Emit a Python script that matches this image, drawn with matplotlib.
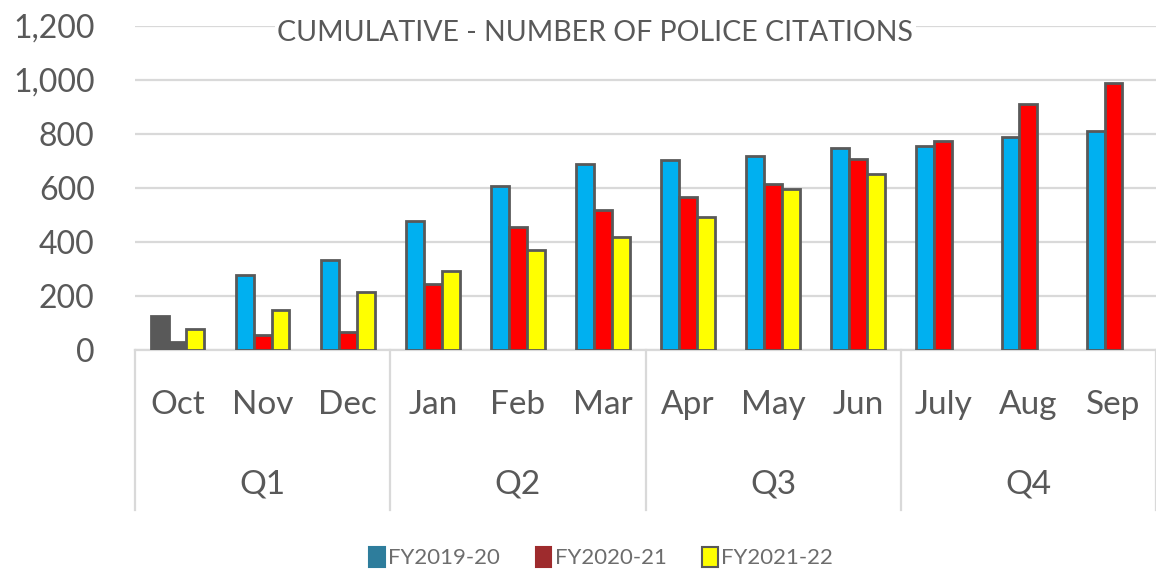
import matplotlib
matplotlib.use('Agg')
import matplotlib.pyplot as plt
from matplotlib.patches import Patch
import numpy as np

plt.rcParams['font.family'] = ['Lato', 'DejaVu Sans']

############################################
# Data
months = ['Oct', 'Nov', 'Dec', 'Jan', 'Feb', 'Mar',
          'Apr', 'May', 'Jun', 'July', 'Aug', 'Sep']
quarters = ['Q1', 'Q2', 'Q3', 'Q4']
series_names = ['FY2019-20', 'FY2020-21', 'FY2021-22']

fy2019 = [125, 278, 333, 478, 607, 689, 704, 719, 748, 757, 790, 811]
fy2020 = [30, 55, 68, 243, 455, 520, 566, 613, 707, 773, 910, 988]
fy2021 = [77, 147, 213, 291, 372, 420, 494, 595, 653, None, None, None]
title = 'CUMULATIVE - NUMBER OF POLICE CITATIONS'
############################################

bar_colors = ['#00B0F0', '#FF0000', '#FFFF00']
legend_colors = ['#2E7D9C', '#9E2B2D', '#FFFF00']
edge = '#595959'
grid_c = '#D9D9D9'
text_c = '#595959'


def Plot():
  fig = plt.figure(figsize=(11.56, 5.73), dpi=100)
  ax = fig.add_axes([135/1156, 223/573, 1021/1156, 324/573])

  x = np.arange(len(months))
  w = 0.21
  all_series = [fy2019, fy2020, fy2021]
  for i, vals in enumerate(all_series):
    v = np.array([np.nan if a is None else a for a in vals], dtype=float)
    faces = [bar_colors[i]] * len(months)
    if i < 2:
      faces[0] = edge   # October block prints as solid grey
    ax.bar(x + (i - 1) * w, v, width=w, color=faces, edgecolor=edge,
           linewidth=2.0, zorder=3)

  ax.set_xlim(-0.5, len(months) - 0.5)
  ax.set_ylim(0, 1200)
  ax.set_yticks(np.arange(0, 1201, 200))
  ax.set_yticklabels(['{:,}'.format(t) for t in range(0, 1201, 200)])
  ax.tick_params(axis='y', length=0, pad=29, labelsize=23, labelcolor=text_c)
  ax.set_xticks([])
  ax.grid(axis='y', color=grid_c, linewidth=1.6, zorder=0)
  for s in ['top', 'right', 'left']:
    ax.spines[s].set_visible(False)
  ax.spines['bottom'].set_color(grid_c)
  ax.spines['bottom'].set_linewidth(1.6)

  # two level category axis
  trans = ax.get_xaxis_transform()
  for xs in [-0.5, 2.5, 5.5, 8.5, 11.5]:
    ax.plot([xs, xs], [0, -0.494], transform=trans, color=grid_c,
            linewidth=1.6, clip_on=False)
  for i, m in enumerate(months):
    ax.text(i, -0.17, m, transform=trans, ha='center', va='center',
            fontsize=24, color=text_c)
  for q, name in enumerate(quarters):
    ax.text(3 * q + 1, -0.415, name, transform=trans, ha='center',
            va='center', fontsize=24, color=text_c)

  fig.text(0.515, 0.942, title, ha='center', va='center', fontsize=20.5,
           color=text_c, zorder=5,
           bbox=dict(facecolor='white', edgecolor='none', pad=2))

  handles = [Patch(facecolor=legend_colors[i],
                   edgecolor=(edge if i == 2 else legend_colors[i]),
                   linewidth=1.5) for i in range(3)]
  fig.legend(handles, series_names, loc='center', bbox_to_anchor=(0.52, 0.027),
             ncol=3, frameon=False, fontsize=16, labelcolor='#6d6d6d',
             handlelength=0.7, handleheight=1.0, handletextpad=0.15,
             columnspacing=1.6)

  fig.savefig('out.png', dpi=100, facecolor='white')


if __name__ == '__main__':
  Plot()
